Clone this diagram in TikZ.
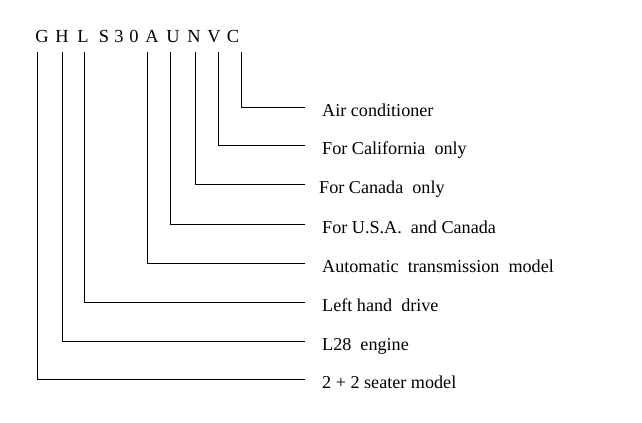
\documentclass[tikz,border=0pt]{standalone}
\usepackage{fontspec}
\setmainfont{Liberation Serif}
\begin{document}
\begin{tikzpicture}[x=1bp,y=-1bp,
  code/.style={anchor=base,inner sep=0pt,font=\fontsize{18.5}{20}\selectfont},
  lab/.style={anchor=base west,inner sep=0pt,font=\fontsize{18.2}{20}\selectfont},
  conn/.style={line width=0.8bp,shorten >=17bp}]
\useasboundingbox (0,0) rectangle (642,422);
% code letters
\node[code] (cG) at (42,42) {G};
\node[code] (cH) at (62,42) {H};
\node[code] (cL) at (83,42) {L};
\node[code] (cS) at (104,42) {S};
\node[code] (c3) at (119,42) {3};
\node[code] (c0) at (134,42) {0};
\node[code] (cA) at (152,42) {A};
\node[code] (cU) at (173,42) {U};
\node[code] (cN) at (194,42) {N};
\node[code] (cV) at (214,42) {V};
\node[code] (cC) at (233,42) {C};
% line tops
\coordinate (tG) at (37,52);
\coordinate (tH) at (62,52);
\coordinate (tL) at (84,52);
\coordinate (tA) at (147,52);
\coordinate (tU) at (170,52);
\coordinate (tN) at (195,52);
\coordinate (tV) at (218,52);
\coordinate (tC) at (241,52);
% labels
\node[lab] (lC) at (322,116) {Air conditioner};
\node[lab] (lV) at (322,154) {For California\ \ only};
\node[lab] (lN) at (319,193) {For Canada\ \ only};
\node[lab] (lU) at (322,233) {For U.S.A.\ \ and Canada};
\node[lab] (lA) at (322,272) {Automatic\ \ transmission\ \ model};
\node[lab] (lL) at (322,311) {Left hand\ \ drive};
\node[lab] (lH) at (322,350) {L28\ \ engine};
\node[lab] (lG) at (322,388) {2 + 2\ seater model};
% connectors
\draw[conn] (tC) |- ([yshift=9bp]lC.base west);
\draw[conn] (tV) |- ([yshift=9bp]lV.base west);
\draw[conn,shorten >=14bp] (tN) |- ([yshift=9bp]lN.base west);
\draw[conn] (tU) |- ([yshift=9bp]lU.base west);
\draw[conn] (tA) |- ([yshift=9bp]lA.base west);
\draw[conn] (tL) |- ([yshift=9bp]lL.base west);
\draw[conn] (tH) |- ([yshift=9bp]lH.base west);
\draw[conn] (tG) |- ([yshift=9bp]lG.base west);
\end{tikzpicture}
\end{document}
